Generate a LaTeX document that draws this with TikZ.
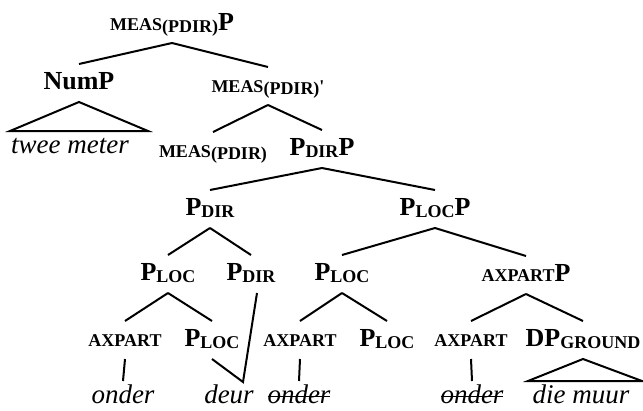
\documentclass[tikz,border=0pt]{standalone}
\usepackage{fontspec}
\setmainfont{Liberation Serif}
\usetikzlibrary{positioning, calc}

% small caps by hand, and the lowered index
\newcommand\smc[1]{{\fontsize{18}{18}\selectfont #1}}
\newcommand\lowsc[1]{\raisebox{-2.5pt}{\smc{#1}}}
\newcommand\strk[1]{\setbox0\hbox{#1}\rlap{\rule[0.22em]{\wd0}{1.3pt}}\box0}

\begin{document}
\begin{tikzpicture}[
        x=1pt, y=-1pt,
        line width=2pt,
        cat/.style={anchor=base, font=\fontsize{26}{26}\selectfont\bfseries,
            text height=18pt, text depth=6pt, inner xsep=2pt, inner ysep=6pt},
        leaf/.style={anchor=base, font=\fontsize{27}{27}\selectfont\itshape,
            text height=16pt, text depth=2pt, inner xsep=2pt, inner ysep=5pt}
    ]
    \useasboundingbox (0,0) rectangle (643,410);

    % --- top ---
    \node[cat] (top) at (172,30) {\smc{MEAS}\lowsc{(PDIR)}P};
    \node[cat] (nump) at (79,89) {NumP};
    \node[cat] (measbar) at (268,92) {\smc{MEAS}\lowsc{(PDIR)}\smc{\textquotesingle}};
    \node[leaf] (twee) at (70,153) {twee meter};
    \node[cat] (meas) at (213,157) {\smc{MEAS}\lowsc{(PDIR)}};
    \node[cat] (pdirp) at (322,155) {P\lowsc{DIR}P};

    % --- middle ---
    \node[cat] (pdir) at (210,215) {P\lowsc{DIR}};
    \node[cat] (plocp) at (435,215) {P\lowsc{LOC}P};
    \node[cat] (plocA) at (168,280) {P\lowsc{LOC}};
    \node[cat] (pdirB) at (251,280) {P\lowsc{DIR}};
    \node[cat] (plocB) at (342,280) {P\lowsc{LOC}};
    \node[cat] (axpartp) at (526,281) {\smc{AXPART}P};

    % --- bottom row ---
    \node[cat] (axA) at (125,346) {\smc{AXPART}};
    \node[cat] (plocC) at (212,346) {P\lowsc{LOC}};
    \node[cat] (axB) at (300,346) {\smc{AXPART}};
    \node[cat] (plocD) at (387,346) {P\lowsc{LOC}};
    \node[cat] (axC) at (471,346) {\smc{AXPART}};
    \node[cat] (dp) at (583,346) {DP\lowsc{GROUND}};

    % --- words ---
    \node[leaf] (onderA) at (123,403) {onder};
    \node[leaf] (deur) at (229,403) {deur};
    \node[leaf] (onderB) at (299,403) {\strk{onder}};
    \node[leaf] (onderC) at (472,403) {\strk{onder}};
    \node[leaf] (muur) at (581,403) {die muur};

    % --- branches ---
    \draw (top.south) -- (nump.north);
    \draw (top.south) -- (measbar.north);
    \draw (measbar.south) -- (meas.north);
    \draw (measbar.south) -- (pdirp.north);
    \draw (pdirp.south) -- (pdir.north);
    \draw (pdirp.south) -- (plocp.north);
    \draw (pdir.south) -- (plocA.north);
    \draw (pdir.south) -- (pdirB.north);
    \draw (plocp.south) -- (plocB.north);
    \draw (plocp.south) -- (axpartp.north);
    \draw (plocA.south) -- (axA.north);
    \draw (plocA.south) -- (plocC.north);
    \draw (plocB.south) -- (axB.north);
    \draw (plocB.south) -- (plocD.north);
    \draw (axpartp.south) -- (axC.north);
    \draw (axpartp.south) -- (dp.north);

    % --- to the words ---
    \draw (axA.south) -- (onderA.north);
    \draw (axB.south) -- (onderB.north);
    \draw (axC.south) -- (onderC.north);
    \coordinate (dip) at (243,382);
    \draw ([xshift=6pt]pdirB.south) -- (dip) -- (plocC.south);

    % triangles
    \draw (nump.south) -- ($(twee.north)+(-60,0)$) -- ($(twee.north)+(78,0)$) -- cycle;
    \draw (dp.south) -- ($(muur.north)+(-53,0)$) -- ($(muur.north)+(61,0)$) -- cycle;
\end{tikzpicture}
\end{document}
